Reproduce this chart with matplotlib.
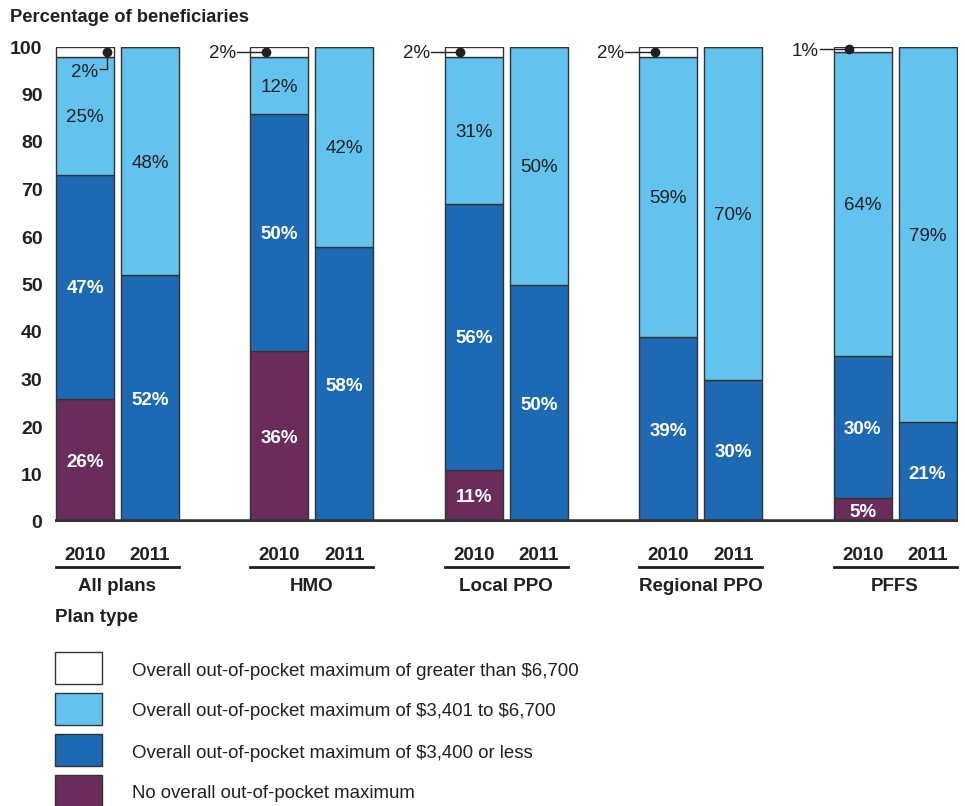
import numpy as np
import matplotlib.pyplot as plt
from matplotlib.patches import Rectangle

plt.rcParams['font.family'] = ['Liberation Sans', 'DejaVu Sans']

# data
plan_types = ['All plans', 'HMO', 'Local PPO', 'Regional PPO', 'PFFS']
years = ['2010', '2011']
# values per bar: 2010 and 2011 alternating by plan type
no_max = [26, 0, 36, 0, 11, 0, 0, 0, 5, 0]
max_3400_or_less = [47, 52, 50, 58, 56, 50, 39, 30, 30, 21]
max_3401_6700 = [25, 48, 12, 42, 31, 50, 59, 70, 64, 79]
max_over_6700 = [2, 0, 2, 0, 2, 0, 2, 0, 1, 0]

series_names = [r'Overall out-of-pocket maximum of greater than \$6,700',
                r'Overall out-of-pocket maximum of \$3,401 to \$6,700',
                r'Overall out-of-pocket maximum of \$3,400 or less',
                'No overall out-of-pocket maximum']
colors = ['#ffffff', '#62c4ee', '#1e69b3', '#6a2c5b']
edge = '#333333'
text_dark = '#231f20'

# layout
W, H = 965, 806
fig = plt.figure(figsize=(W / 100, H / 100), dpi=100)
ax_left, ax_right, ax_top, ax_bot = 55, 958, 47, 522
ax = fig.add_axes([ax_left / W, 1 - ax_bot / H, (ax_right - ax_left) / W, (ax_bot - ax_top) / H])

offset = 0.167
width = 0.298
centers = np.arange(len(plan_types))
xpos = np.ravel(np.column_stack([centers - offset, centers + offset]))

stack = [no_max, max_3400_or_less, max_3401_6700, max_over_6700]
stack_colors = [colors[3], colors[2], colors[1], colors[0]]
bottom = np.zeros(len(xpos))
for vals, col in zip(stack, stack_colors):
    vals = np.array(vals, dtype=float)
    ax.bar(xpos, vals, width, bottom=bottom, color=col, edgecolor=edge, linewidth=1.0, zorder=2)
    bottom += vals

# segment labels
fs = 13.5
va = 'center_baseline'
bottom = np.zeros(len(xpos))
for k, (vals, col) in enumerate(zip(stack, stack_colors)):
    for i, v in enumerate(vals):
        if v >= 5 and k < 3:
            y = bottom[i] + v / 2
            if k == 2:
                ax.text(xpos[i], y, f'{v}%', ha='center', va=va, fontsize=fs, color=text_dark)
            else:
                ax.text(xpos[i], y, f'{v}%', ha='center', va=va, fontsize=fs,
                        color='white', fontweight='bold')
    bottom += np.array(vals, dtype=float)

# callouts for the small top segments
for g in range(len(plan_types)):
    i = 2 * g
    v = max_over_6700[i]
    ytop = 100 - v / 2
    if g == 0:
        xd = xpos[i] + 0.113
        ax.plot([xd, xd, xd - 0.035], [ytop, 95.4, 95.4], color=text_dark, lw=1, zorder=3)
        ax.plot(xd, ytop, 'o', color=text_dark, ms=6, zorder=4)
        ax.text(xpos[i], 95.0, f'{v}%', ha='center', va=va, fontsize=fs, color=text_dark)
    else:
        xd = xpos[i] - 0.07
        ax.plot([xpos[i] - 0.22, xd], [ytop, ytop], color=text_dark, lw=1, zorder=3, clip_on=False)
        ax.plot(xd, ytop, 'o', color=text_dark, ms=6, zorder=4, clip_on=False)
        ax.text(xpos[i] - 0.225, ytop, f'{v}%', ha='right', va=va, fontsize=fs,
                color=text_dark)

ax.set_xlim((ax_left - 117.5) / 194.4, (ax_right - 117.5) / 194.4)
ax.set_ylim(0, 100)
ax.axhline(0, color=edge, lw=4, zorder=3)
for s in ax.spines.values():
    s.set_visible(False)
ax.set_xticks([])
ax.set_yticks(np.arange(0, 101, 10))
ax.set_yticklabels([str(t) for t in range(0, 101, 10)], fontweight='bold', fontsize=14, color=text_dark)
ax.tick_params(axis='y', length=0, pad=9)

# year labels, underlines and plan type labels
trans = ax.get_xaxis_transform()
for g, name in enumerate(plan_types):
    for j, yr in enumerate(years):
        ax.text(xpos[2 * g + j], -0.066, yr, transform=trans, ha='center', va=va,
                fontsize=fs, fontweight='bold', color=text_dark)
    ax.plot([g - offset - width / 2, g + offset + width / 2], [-0.095, -0.095], transform=trans,
            color=text_dark, lw=2, clip_on=False)
    ax.text(g, -0.132, name, transform=trans, ha='center', va=va, fontsize=fs,
            fontweight='bold', color=text_dark)

fig.text(ax_left / W, 1 - 616 / H, 'Plan type', ha='left', va=va, fontsize=fs,
         fontweight='bold', color=text_dark)
fig.text(10 / W, 1 - 16 / H, 'Percentage of beneficiaries', ha='left', va=va, fontsize=13.2,
         fontweight='bold', color=text_dark)

# legend
box_tops = [652, 693, 734, 775]
for top, name, col in zip(box_tops, series_names, colors):
    fig.add_artist(Rectangle((55 / W, 1 - (top + 32) / H), 47 / W, 32 / H, transform=fig.transFigure,
                             facecolor=col, edgecolor=edge, linewidth=1))
    fig.text(132 / W, 1 - (top + 17) / H, name, ha='left', va=va, fontsize=13.4, color=text_dark)

fig.savefig('out.png', dpi=100)
